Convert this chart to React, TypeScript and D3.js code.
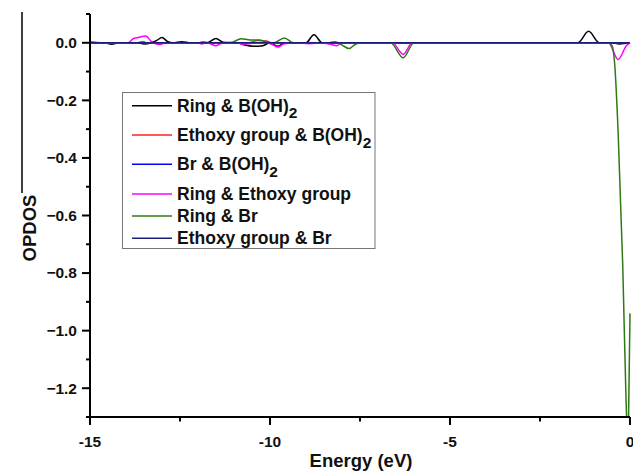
import React from "react";
import * as d3 from "d3";

type Pt = [number, number];

const seriesNames = [
  "Ring & B(OH)2",
  "Ethoxy group & B(OH)2",
  "Br & B(OH)2",
  "Ring & Ethoxy group",
  "Ring & Br",
  "Ethoxy group & Br",
];
const seriesColors = ["#000000", "#ff2020", "#0000ff", "#ff00ff", "#2f7a12", "#1c1c80"];

const ringBOH2: Pt[] = [
  [-15, 0], [-14.6, 0], [-14.4, -0.005], [-14.2, 0], [-13.7, 0], [-13.5, -0.004], [-13.3, 0],
  [-13.15, 0.008], [-13.0, 0.018], [-12.85, 0.005], [-12.7, 0], [-12.45, 0.004], [-12.2, 0],
  [-11.75, 0], [-11.5, 0.015], [-11.3, 0.002], [-10.9, 0], [-10.7, -0.008], [-10.45, -0.012],
  [-10.2, -0.01], [-10.0, 0], [-9.78, -0.012], [-9.6, 0], [-9.0, 0], [-8.78, 0.028],
  [-8.55, 0], [-8.3, 0], [-1.45, 0], [-1.15, 0.04], [-0.85, 0], [-0.5, 0], [-0.3, -0.004], [0, 0],
];
const ethoxyBOH2: Pt[] = [
  [-15, 0], [-12.0, 0], [-11.85, 0.004], [-11.7, 0], [-10.6, 0], [-10.35, 0.008], [-10.1, 0.006],
  [-9.95, 0], [0, 0],
];
const brBOH2: Pt[] = [[-15, 0], [0, 0]];
const ringEthoxy: Pt[] = [
  [-15, 0.004], [-14.85, 0.002], [-14.7, 0], [-13.95, 0], [-13.8, 0.014], [-13.6, 0.02],
  [-13.45, 0.024], [-13.3, 0.005], [-13.2, -0.003], [-13.05, -0.006], [-12.9, 0], [-12.0, 0],
  [-11.9, -0.004], [-11.75, 0], [-11.5, -0.01], [-11.3, 0], [-10.9, 0], [-10.75, -0.005],
  [-10.5, -0.002], [-10.1, 0], [-9.95, -0.005], [-9.78, -0.015], [-9.6, -0.003], [-9.3, 0],
  [-8.9, -0.003], [-8.6, 0], [-8.35, -0.004], [-8.15, -0.01], [-8.0, 0], [-6.6, 0],
  [-6.3, -0.04], [-6.05, 0], [-0.6, 0], [-0.33, -0.058], [-0.1, -0.01], [0, 0],
];
const ringBr: Pt[] = [
  [-15, 0], [-13.7, 0], [-13.55, 0.004], [-13.4, 0], [-11.1, 0], [-10.8, 0.014], [-10.55, 0.01],
  [-10.3, 0.01], [-10.1, 0.003], [-9.9, 0], [-9.6, 0.017], [-9.35, 0], [-8.4, 0], [-8.2, 0.004],
  [-8.0, -0.008], [-7.8, -0.02], [-7.6, -0.003], [-7.4, 0], [-6.65, 0], [-6.3, -0.052],
  [-6.0, 0], [-0.6, 0], [-0.5, -0.01], [-0.42, -0.083], [-0.33, -0.31], [-0.2, -0.78],
  [-0.11, -1.24], [-0.07, -1.36], [-0.04, -1.3], [0, -0.94],
];
const ethoxyBr: Pt[] = [[-15, 0], [0, 0]];

const allSeries = [ringBOH2, ethoxyBOH2, brBOH2, ringEthoxy, ringBr, ethoxyBr];

const xMajorTicks = [-15, -10, -5, 0];
const xMinorTicks = [-12.5, -7.5, -2.5];
const yMajorTicks = [0, -0.2, -0.4, -0.6, -0.8, -1.0, -1.2];
const yMinorTicks = [0.1, -0.1, -0.3, -0.5, -0.7, -0.9, -1.1, -1.3];

const FONT = "'Liberation Sans', Arial, sans-serif";

export default function App() {
  const x = d3.scaleLinear().domain([-15, 0]).range([90, 630]);
  const y = d3.scaleLinear().domain([-1.3, 0.1]).range([417, 14]);
  const line = d3
    .line<Pt>()
    .x((d) => x(d[0]))
    .y((d) => y(d[1]))
    .curve(d3.curveMonotoneX);

  const legendRows = [105.7, 135, 164.3, 194, 216, 238.3];

  const renderLabel = (name: string) => {
    if (name.endsWith("B(OH)2")) {
      return (
        <>
          {name.slice(0, -1)}
          <tspan dy={6.5} fontSize={15.5}>2</tspan>
        </>
      );
    }
    return name;
  };

  return (
    <svg
      width={633}
      height={472}
      style={{ position: "absolute", left: 0, top: 0, background: "#fff" }}
      fontFamily={FONT}
      fontWeight="bold"
    >
      <defs>
        <clipPath id="plot">
          <rect x={90} y={0} width={545} height={417} />
        </clipPath>
      </defs>
      <line x1={22} x2={22} y1={12} y2={193} stroke="#000" strokeWidth={1.5} />

      <g clipPath="url(#plot)">
        {allSeries.map((s, i) => (
          <path key={i} d={line(s) || ""} fill="none" stroke={seriesColors[i]} strokeWidth={1.5} />
        ))}
      </g>

      {/* y axis */}
      <line x1={90} x2={90} y1={y(0.1)} y2={y(-1.3)} stroke="#000" strokeWidth={2} />
      {yMajorTicks.map((t) => (
        <g key={"ym" + t}>
          <line x1={82} x2={90} y1={y(t)} y2={y(t)} stroke="#000" strokeWidth={2} />
          <text x={77} y={y(t) + 5.3} textAnchor="end" fontSize={15.5} fill="#111">
            {d3.format(".1f")(t)}
          </text>
        </g>
      ))}
      {yMinorTicks.map((t) => (
        <line key={"yn" + t} x1={86} x2={90} y1={y(t)} y2={y(t)} stroke="#000" strokeWidth={2} />
      ))}

      {/* x axis */}
      <line x1={86} x2={630} y1={417} y2={417} stroke="#000" strokeWidth={2} />
      {xMajorTicks.map((t) => (
        <g key={"xm" + t}>
          <line x1={x(t)} x2={x(t)} y1={417} y2={425} stroke="#000" strokeWidth={2} />
          <text x={x(t)} y={447} textAnchor="middle" fontSize={15.5} fill="#111">
            {t}
          </text>
        </g>
      ))}
      {xMinorTicks.map((t) => (
        <line key={"xn" + t} x1={x(t)} x2={x(t)} y1={417} y2={421.5} stroke="#000" strokeWidth={2} />
      ))}

      <text x={361} y={467} textAnchor="middle" fontSize={18.5} fill="#111">
        Energy (eV)
      </text>
      <text transform="translate(35.5,228) rotate(-90)" textAnchor="middle" fontSize={18.5} fill="#111">
        OPDOS
      </text>

      {/* legend */}
      <rect x={122.5} y={92.5} width={252.5} height={156} fill="#fff" stroke="#777" strokeWidth={1} />
      {seriesNames.map((n, i) => (
        <g key={n}>
          <line x1={132} x2={172} y1={legendRows[i]} y2={legendRows[i]} stroke={seriesColors[i]} strokeWidth={1.5} />
          <text x={177} y={legendRows[i] + 6} fontSize={17.5} fill="#111">
            {renderLabel(n)}
          </text>
        </g>
      ))}
    </svg>
  );
}
